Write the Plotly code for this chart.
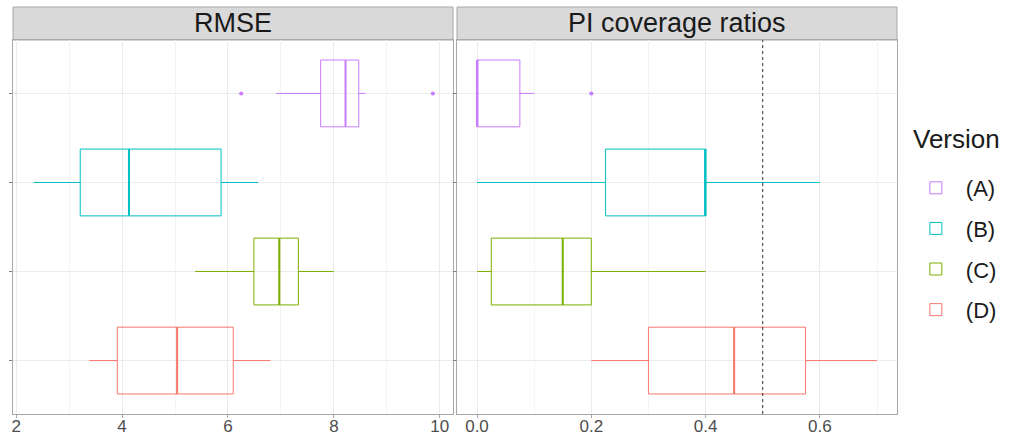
import plotly.graph_objects as go

versions = ["(A)", "(B)", "(C)", "(D)"]
colors = ["#C77CFF", "#00BFC4", "#7CAE00", "#F8766D"]

# RMSE panel stats
rmse_low = [6.91, 2.33, 5.38, 3.38]
rmse_q1 = [7.75, 3.21, 6.49, 3.91]
rmse_med = [8.22, 4.13, 6.97, 5.04]
rmse_q3 = [8.47, 5.87, 7.33, 6.10]
rmse_high = [8.60, 6.57, 8.00, 6.80]
rmse_out = [[6.25, 9.87], [], [], []]

# PI coverage ratio stats
pi_low = [0.0, 0.0, 0.0, 0.20]
pi_q1 = [0.0, 0.225, 0.025, 0.30]
pi_med = [0.0, 0.40, 0.15, 0.45]
pi_q3 = [0.075, 0.40, 0.20, 0.575]
pi_high = [0.10, 0.60, 0.40, 0.70]
pi_out = [[0.20], [], [], []]

target_coverage = 0.5
panel_titles = ["RMSE", "PI coverage ratios"]
legend_title = "Version"

cat_order = versions[::-1]  # first category drawn at the bottom
BOXW = 0.75
FONT = "Liberation Sans, Arial, sans-serif"
BORDER = "#A8A8A8"

fig = go.Figure()
panels = [
    ("x", "y", rmse_low, rmse_q1, rmse_med, rmse_q3, rmse_high, rmse_out),
    ("x2", "y2", pi_low, pi_q1, pi_med, pi_q3, pi_high, pi_out),
]
shapes = []
for p, (xa, ya, lo, q1, md, q3, hi, out) in enumerate(panels):
    for i, v in enumerate(versions):
        c = colors[i]
        fig.add_trace(go.Box(
            orientation="h", y=[v], q1=[q1[i]], median=[md[i]], q3=[q3[i]],
            lowerfence=[lo[i]], upperfence=[hi[i]],
            width=BOXW, whiskerwidth=0, boxpoints=False,
            line=dict(color=c, width=1), fillcolor="rgba(255,255,255,0)",
            name=v, legendgroup=v, showlegend=(p == 0),
            xaxis=xa, yaxis=ya,
        ))
        if out[i]:
            fig.add_trace(go.Scatter(
                x=out[i], y=[v] * len(out[i]), mode="markers",
                marker=dict(color=c, size=4), showlegend=False,
                legendgroup=v, xaxis=xa, yaxis=ya, hoverinfo="x",
            ))
        idx = cat_order.index(v)
        shapes.append(dict(type="line", xref=xa, yref=ya,
                           x0=md[i], x1=md[i], y0=idx - BOXW / 2, y1=idx + BOXW / 2,
                           line=dict(color=c, width=2), layer="above"))

# dashed reference line on PI panel
shapes.append(dict(type="line", xref="x2", yref="paper", x0=target_coverage, x1=target_coverage,
                   y0=0, y1=1, line=dict(color="#333333", width=1, dash="3px,3px")))

# strips
L, R, T, B = 13, 114, 40, 23
W, H = 1011 - L - R, 437 - T - B
split0 = (453 - L) / W
split1 = (457 - L) / W
strip_h = 33 / H
annotations = []
for (x0, x1), title in zip([(0, split0), (split1, 1)], panel_titles):
    shapes.append(dict(type="rect", xref="paper", yref="paper", x0=x0, x1=x1,
                       y0=1, y1=1 + strip_h, fillcolor="#D9D9D9",
                       line=dict(color=BORDER, width=1), layer="below"))
    annotations.append(dict(text=title, xref="paper", yref="paper", x=(x0 + x1) / 2,
                            y=1 + strip_h / 2, showarrow=False, xanchor="center",
                            yanchor="middle", font=dict(size=27, color="#1A1A1A", family=FONT)))

# legend title
annotations.append(dict(text=legend_title, xref="paper", yref="paper",
                        x=(911 - L) / W, y=1 - (139 - T) / H, xanchor="left", yanchor="middle",
                        showarrow=False, font=dict(size=26, color="#1A1A1A", family=FONT)))

common_x = dict(showline=True, mirror=True, linecolor=BORDER, linewidth=1,
                ticks="outside", ticklen=3, tickcolor=BORDER, gridcolor="#EBEBEB",
                gridwidth=1, zeroline=False, automargin=False, ticklabelstandoff=-6,
                tickfont=dict(size=17, color="#4D4D4D", family=FONT))
common_y = dict(showline=True, mirror=True, linecolor=BORDER, linewidth=1,
                ticks="outside", ticklen=3, tickcolor="#7F7F7F", showticklabels=False,
                gridcolor="#EBEBEB", categoryorder="array", categoryarray=cat_order,
                range=[-0.6, 3.6], zeroline=False, automargin=False)

fig.update_layout(
    width=1011, height=437, margin=dict(l=L, r=R, t=T, b=B, autoexpand=False),
    paper_bgcolor="white", plot_bgcolor="white",
    font=dict(family=FONT),
    xaxis=dict(domain=[0, split0], range=[1.94, 10.25], tickvals=[2, 4, 6, 8, 10],
               minor=dict(dtick=1, tick0=0, showgrid=True, gridcolor="#F4F4F4", ticks=""),
               anchor="y", **common_x),
    xaxis2=dict(domain=[split1, 1], range=[-0.035, 0.735], tickvals=[0, 0.2, 0.4, 0.6],
                ticktext=["0.0", "0.2", "0.4", "0.6"],
                minor=dict(dtick=0.1, tick0=0, showgrid=True, gridcolor="#F4F4F4", ticks=""),
                anchor="y2", **common_x),
    yaxis=dict(anchor="x", **common_y),
    yaxis2=dict(anchor="x2", matches="y", **common_y),
    shapes=shapes, annotations=annotations,
    legend=dict(font=dict(size=22, color="#1A1A1A"), x=1.01, xanchor="left",
                y=0.655 + 2 / H, yanchor="top", tracegroupgap=9, traceorder="grouped",
                itemwidth=50, bgcolor="rgba(0,0,0,0)"),
    showlegend=True,
)

fig.write_html("out.html")
